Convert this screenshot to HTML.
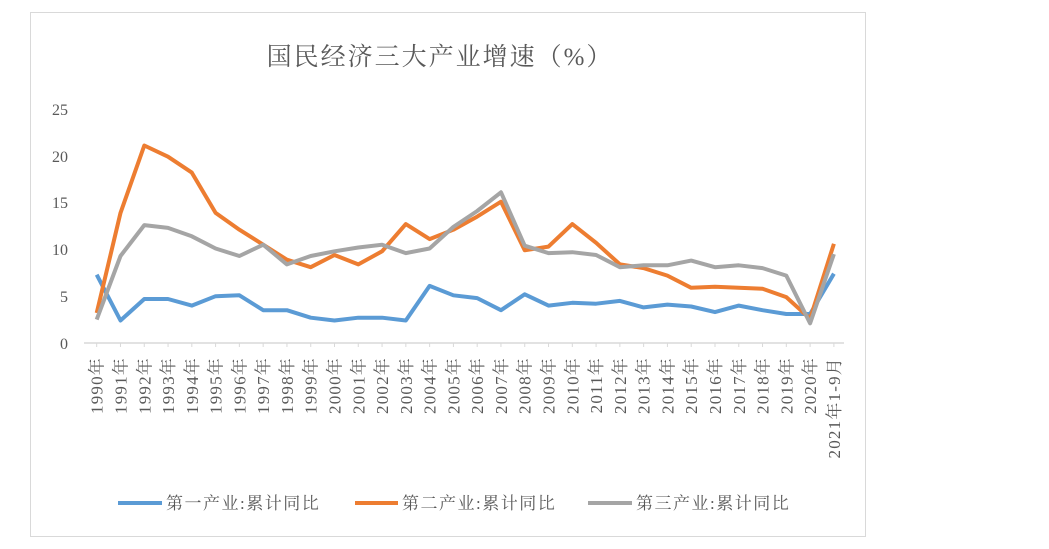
<!DOCTYPE html>
<html><head><meta charset="utf-8"><style>body{margin:0;background:#fff}svg{display:block}</style></head><body>
<svg width="1049" height="549" xmlns="http://www.w3.org/2000/svg" font-family="'Liberation Serif','Noto Serif CJK SC',serif">
<rect x="30.5" y="12.5" width="835" height="524" fill="#fff" stroke="#d9d9d9"/>
<text x="440" y="65" text-anchor="middle" font-size="25" fill="#595959" letter-spacing="2">国民经济三大产业增速（%）</text>
<g font-size="16" fill="#595959" text-anchor="end">
<text x="68" y="349">0</text><text x="68" y="302">5</text><text x="68" y="255">10</text><text x="68" y="208">15</text><text x="68" y="162">20</text><text x="68" y="115">25</text>
</g>
<line x1="84" y1="343" x2="844" y2="343" stroke="#d9d9d9" stroke-width="1.5"/>
<g id="lines"></g>
<g id="labels" font-size="17" fill="#595959" letter-spacing="1.2"></g>
<g font-size="17" fill="#595959" letter-spacing="1.5">
<line x1="118" y1="503" x2="162" y2="503" stroke="#5b9bd5" stroke-width="4"/><text x="166" y="509">第一产业:累计同比</text>
<line x1="355" y1="503" x2="398" y2="503" stroke="#ed7d31" stroke-width="4"/><text x="402" y="509">第二产业:累计同比</text>
<line x1="588" y1="503" x2="632" y2="503" stroke="#a5a5a5" stroke-width="4"/><text x="636" y="509">第三产业:累计同比</text>
</g>
<script>
var A=[7.3,2.4,4.7,4.7,4.0,5.0,5.1,3.5,3.5,2.7,2.4,2.7,2.7,2.4,6.1,5.1,4.8,3.5,5.2,4.0,4.3,4.2,4.5,3.8,4.1,3.9,3.3,4.0,3.5,3.1,3.1,7.4];
var B=[3.2,13.9,21.1,19.9,18.2,13.9,12.1,10.5,8.9,8.1,9.4,8.4,9.8,12.7,11.1,12.1,13.5,15.1,9.9,10.3,12.7,10.7,8.4,8.0,7.2,5.9,6.0,5.9,5.8,4.9,2.6,10.6];
var C=[2.5,9.3,12.6,12.3,11.4,10.1,9.3,10.5,8.4,9.3,9.8,10.2,10.5,9.6,10.1,12.4,14.1,16.1,10.4,9.6,9.7,9.4,8.1,8.3,8.3,8.8,8.1,8.3,8.0,7.2,2.1,9.5];
var ns="http://www.w3.org/2000/svg";
function X(i){return 96.7+i*23.78}function Y(v){return 343-v*9.36}
var g=document.getElementById("lines");
[[A,"#5b9bd5"],[B,"#ed7d31"],[C,"#a5a5a5"]].forEach(function(s){var p=document.createElementNS(ns,"polyline");p.setAttribute("points",s[0].map(function(v,i){return X(i).toFixed(1)+","+Y(v).toFixed(1)}).join(" "));p.setAttribute("fill","none");p.setAttribute("stroke",s[1]);p.setAttribute("stroke-width","4");p.setAttribute("stroke-linejoin","round");g.appendChild(p);});
var L=document.getElementById("labels");
for(var i=0;i<32;i++){var t=document.createElementNS(ns,"line");t.setAttribute("x1",X(i));t.setAttribute("x2",X(i));t.setAttribute("y1",343);t.setAttribute("y2",347);t.setAttribute("stroke","#d9d9d9");L.appendChild(t);
var tx=document.createElementNS(ns,"text");var x=X(i)+6,y=357;tx.setAttribute("transform","translate("+x+","+y+") rotate(-90)");tx.setAttribute("text-anchor","end");tx.textContent=i<31?(1990+i)+"年":"2021年1-9月";L.appendChild(tx);}
</script>
</svg>
</body></html>
